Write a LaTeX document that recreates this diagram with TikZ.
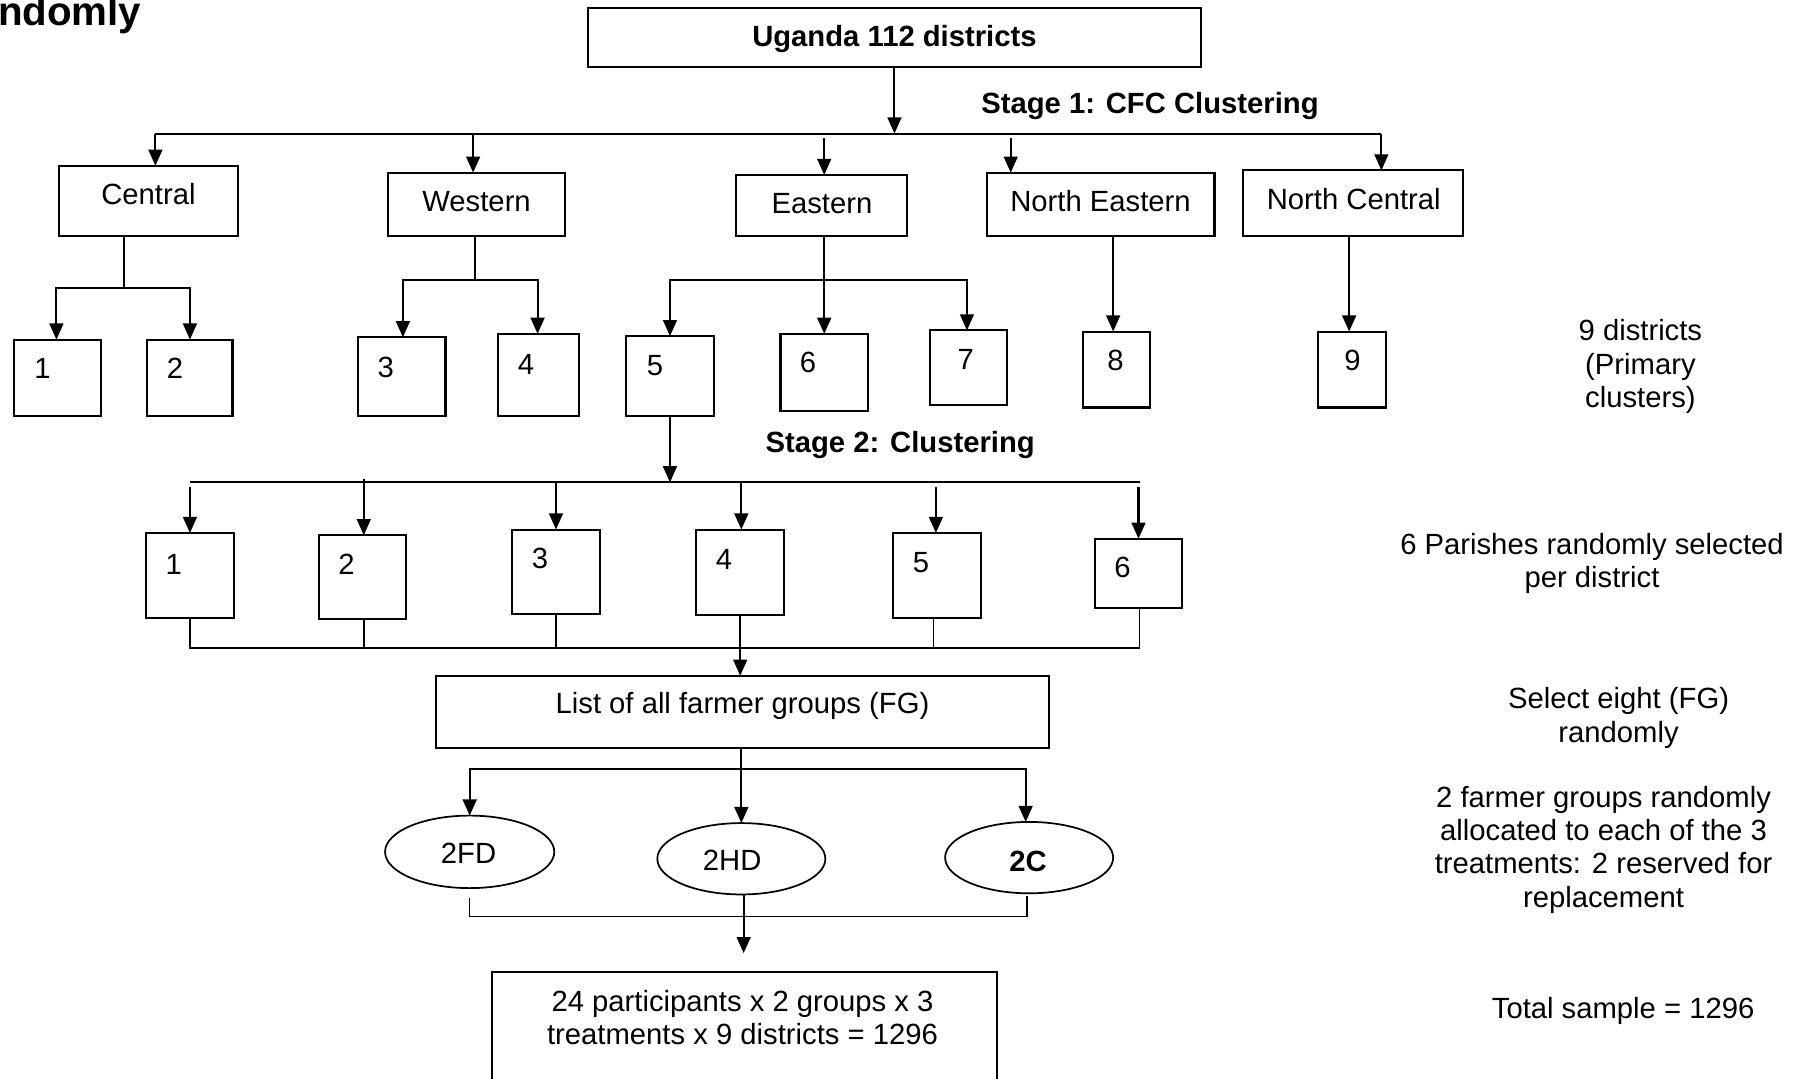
\documentclass[tikz,border=0pt]{standalone}
\usepackage{fontspec}
\setmainfont{Liberation Sans}
\usetikzlibrary{arrows.meta,shapes.geometric}
\tikzset{
 box/.style={draw, line width=1.8pt, inner sep=0pt, outer sep=0pt},
 txt/.style={inner sep=0pt, font=\fontsize{25.4}{29}\selectfont},
 btxt/.style={inner sep=0pt, font=\fontsize{25.4}{29}\selectfont\bfseries},
 link/.style={line width=1.8pt},
 thinlink/.style={line width=1.3pt},
 arr/.style={line width=1.8pt, -{Triangle[width=12pt,length=14pt]}},
 oval/.style={draw, ellipse, line width=1.5pt, inner sep=0pt, outer sep=0pt},
 note/.style={inner sep=0pt, align=center, font=\fontsize{25.4}{29}\selectfont},
}
\newcommand\mybox[5]{\node[box, minimum width={#4-#2}, minimum height={#5-#3}] (#1) at ({(#2+#4)/2},{(#3+#5)/2}) {};}
\begin{document}
\begin{tikzpicture}[x=1pt,y=-1pt]
\useasboundingbox (0,0) rectangle (1568,937);

% cut-off heading
\node[inner sep=0pt, anchor=base east, font=\fontsize{35}{40}\selectfont\bfseries] (rnd) at (123,22) {ndomly};

% top box
\mybox{uganda}{511}{7}{1043}{58}
\node[btxt] (tu) at (777,34) {Uganda 112 districts};
\node[btxt] (s1) at (999,92) {Stage 1: CFC Clustering};
\coordinate (h1L) at (135,116);
\coordinate (h1R) at (1200,116);
\draw[link] (h1L) -- (h1R);
\draw[arr] (uganda.south) -- (uganda.south |- h1L);

% regions
\mybox{central}{51}{144}{207}{205}
\mybox{western}{337}{150}{491}{205}
\mybox{eastern}{639}{152}{788}{205}
\mybox{neast}{857}{150}{1055}{205}
\mybox{ncentral}{1080}{148}{1271}{205}
\node[txt] (tc) at (129,169) {Central};
\node[txt] (tw) at (414,175) {Western};
\node[txt] (te) at (714,177) {Eastern};
\node[txt] (tne) at (956,175) {North Eastern};
\node[txt] (tnc) at (1176,173) {North Central};

\coordinate (aW) at (411,116);
\coordinate (aE) at (716,120);
\coordinate (aNE) at (878,120);
\draw[arr] (h1L) -- (h1L |- central.north);
\draw[arr] (aW) -- (aW |- western.north);
\draw[arr] (aE) -- (aE |- eastern.north);
\draw[arr] (aNE) -- (aNE |- neast.north);
\draw[arr] (h1R) -- (h1R |- ncentral.north);

% districts
\mybox{d1}{12}{295}{88}{361}
\mybox{d2}{128}{295}{202}{361}
\mybox{d3}{311}{293}{387}{361}
\mybox{d4}{433}{290}{503}{361}
\mybox{d5}{544}{292}{620}{361}
\mybox{d6}{678}{290}{754}{357}
\mybox{d7}{808}{287}{875}{352}
\mybox{d8}{941}{288}{999}{354}
\mybox{d9}{1145}{288}{1204}{354}
\node[txt] (td1) at (37,320) {1};
\node[txt] (td2) at (152,320) {2};
\node[txt] (td3) at (335,319) {3};
\node[txt] (td4) at (457,317) {4};
\node[txt] (td5) at (569,318) {5};
\node[txt] (td6) at (702,315) {6};
\node[txt] (td7) at (839,312) {7};
\node[txt] (td8) at (969,313) {8};
\node[txt] (td9) at (1175,313) {9};

% central split
\coordinate (cj) at (108,250);
\coordinate (cL) at (49,250);
\coordinate (cR) at (165,250);
\draw[link] (cj |- central.south) -- (cj);
\draw[arr] (cj) -- (cL) -- (cL |- d1.north);
\draw[arr] (cj) -- (cR) -- (cR |- d2.north);
% western split
\coordinate (wj) at (413,243);
\coordinate (wL) at (350,243);
\coordinate (wR) at (467,243);
\draw[link] (wj |- western.south) -- (wj);
\draw[arr] (wj) -- (wL) -- (wL |- d3.north);
\draw[arr] (wj) -- (wR) -- (wR |- d4.north);
% eastern split
\coordinate (ej) at (716,243);
\coordinate (eL) at (582,243);
\coordinate (eR) at (840,243);
\draw[arr] (ej |- eastern.south) -- (ej |- d6.north);
\draw[arr] (ej) -- (eL) -- (eL |- d5.north);
\draw[arr] (ej) -- (eR) -- (eR |- d7.north);
% north eastern / north central
\coordinate (nej) at (967,250);
\coordinate (ncj) at (1172,250);
\draw[arr] (nej |- neast.south) -- (nej |- d8.north);
\draw[arr] (ncj |- ncentral.south) -- (ncj |- d9.north);

\node[note] (n1) at (1425,318.5) {9 districts\\(Primary\\clusters)};

% stage 2
\node[btxt] (s2) at (782,387) {Stage 2: Clustering};
\coordinate (h2L) at (165,419);
\coordinate (h2R) at (990,419);
\draw[link] (h2L) -- (h2R);
\draw[arr] (d5.south) -- (d5.south |- h2L);

\mybox{p1}{127}{463}{203}{537}
\mybox{p2}{277}{465}{353}{538}
\mybox{p3}{445}{460}{521}{533}
\mybox{p4}{605}{460}{681}{534}
\mybox{p5}{776}{463}{852}{537}
\mybox{p6}{951}{468}{1027}{528}
\node[txt] (tp1) at (151,490) {1};
\node[txt] (tp2) at (301,490) {2};
\node[txt] (tp3) at (469,485) {3};
\node[txt] (tp4) at (629,486) {4};
\node[txt] (tp5) at (800,489) {5};
\node[txt] (tp6) at (975,493) {6};

\coordinate (q1) at (165,423);
\coordinate (q2) at (316,416);
\coordinate (q3) at (483,419);
\coordinate (q4) at (644,419);
\coordinate (q5) at (813,423);
\coordinate (q6) at (989,423);
\draw[arr] (q1) -- (q1 |- p1.north);
\draw[arr] (q2) -- (q2 |- p2.north);
\draw[arr] (q3) -- (q3 |- p3.north);
\draw[arr] (q4) -- (q4 |- p4.north);
\draw[arr] (q5) -- (q5 |- p5.north);
\draw[arr] (q6) -- (q6 |- p6.north);

\node[note] (n2) at (1383,489.5) {6 Parishes randomly selected\\per district};

% collector below parishes
\coordinate (k1) at (165,563);
\coordinate (k2) at (316,563);
\coordinate (k3) at (483,563);
\coordinate (k5) at (811,563);
\coordinate (k6) at (990,563);
\draw[thinlink] (k1 |- p1.south) -- (k1) -- (k6) -- (k6 |- p6.south);
\draw[thinlink] (k2 |- p2.south) -- (k2);
\draw[thinlink] (k3 |- p3.south) -- (k3);
\draw[thinlink] (k5 |- p5.south) -- (k5);

% farmer groups
\mybox{fg}{379}{587}{911}{650}
\node[txt] (tfg) at (645,613) {List of all farmer groups (FG)};
\draw[arr] (p4.south) -- (p4.south |- fg.north);

\node[note] (n3) at (1406,623.5) {Select eight (FG)\\randomly};

% treatments
\node[oval, minimum width=147, minimum height=63] (fd) at (408,740) {};
\node[oval, minimum width=146, minimum height=62] (hd) at (644,746) {};
\node[oval, minimum width=146, minimum height=62] (cc) at (894,745) {};
\node[txt] (tfd) at (407,741) {2FD};
\node[txt] (thd) at (636,747) {2HD};
\node[btxt] (tcc) at (893,748) {2C};

\coordinate (fj) at (644,668);
\coordinate (fL) at (408,668);
\coordinate (fR) at (891,668);
\draw[arr] (fg.south -| fj) -- (fj |- hd.north);
\draw[arr] (fj) -- (fL) -- (fL |- fd.north);
\draw[arr] (fj) -- (fR) -- (fR |- cc.north);

\node[note] (n4) at (1393,738) {2 farmer groups randomly\\allocated to each of the 3\\treatments: 2 reserved for\\replacement};

% bottom collector
\coordinate (bL) at (408,796);
\coordinate (bR) at (892,796);
\coordinate (bLt) at (408,780);
\coordinate (bRt) at (892,778);
\draw[thinlink] (bLt) -- (bL) -- (bR) -- (bRt);

\mybox{tot}{427}{844}{866}{940}
\coordinate (tip) at (646,828);
\draw[arr] (hd.south -| tip) -- (tip);
\node[note] (ttot) at (645,884) {24 participants x 2 groups x 3\\treatments x 9 districts = 1296};

\node[note] (n5) at (1410,878) {Total sample = 1296};
\end{tikzpicture}
\end{document}
